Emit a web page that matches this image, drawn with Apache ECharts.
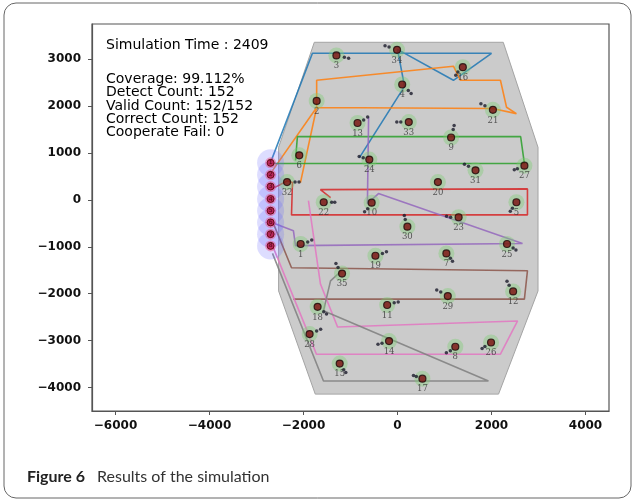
<!DOCTYPE html>
<html>
<head>
<meta charset="utf-8">
<script src="https://cdn.jsdelivr.net/npm/echarts@6/dist/echarts.min.js"></script>
<style>html,body{margin:0;padding:0;background:#fff;}#c{width:635px;height:502px;}</style>
</head>
<body>
<div id="c"></div>
<script>
// ---------- data ----------
const xTicks = [-6000, -4000, -2000, 0, 2000, 4000];
const yTicks = [-4000, -3000, -2000, -1000, 0, 1000, 2000, 3000];

const statsLines = ['Coverage: 99.112%', 'Detect Count: 152', 'Valid Count: 152/152', 'Correct Count: 152', 'Cooperate Fail: 0'];
const simTime = 'Simulation Time : 2409';
const captionBold = 'Figure 6';
const captionText = 'Results of the simulation';

// search region (grey polygon)
const regionX = [-1770, 2250, 2990, 2990, 2150, -1750, -2530, -2530];
const regionY = [3360, 3360, 1120, -1940, -4140, -4140, -1940, 1120];

// start positions (left column)
const startLabels = ['1', '2', '3', '4', '5', '6', '7', '8'];
const startX = [-2700, -2700, -2700, -2700, -2700, -2700, -2700, -2700];
const startY = [790, 535, 285, 20, -230, -480, -730, -980];

// targets / nodes
const nodeLabels = ['3','34','16','4','2','21','13','33','9','6','24','31','27','32','20','22','10','5','23','30','1','19','7','25','35','12','29','11','18','28','14','8','26','15','17'];
const nodeX = [-1300,-10,1390,100,-1720,2030,-850,240,1140,-2090,-600,1660,2700,-2350,860,-1570,-550,2530,1300,210,-2060,-470,1040,2330,-1180,2460,1070,-220,-1700,-1870,-180,1230,1990,-1230,530];
const nodeY = [3080,3200,2830,2460,2110,1920,1640,1660,1330,950,860,630,730,380,380,-50,-60,-50,-370,-570,-940,-1190,-1140,-940,-1570,-1950,-2050,-2240,-2280,-2860,-3010,-3130,-3040,-3490,-3810];

// trailing detection dots
const trailX = [-1130,-1040,-180,-265,1285,1240,230,290,1860,1775,-720,-635,70,-15,1185,1205,-730,-815,1510,1425,2550,2485,-2180,-2095,-1400,-1335,-635,-700,2445,2400,1130,1045,165,145,-1910,-1825,-320,-235,1125,1170,2460,2520,-1265,-1310,2375,2330,920,835,-70,15,-1570,-1510,-1720,-1635,-330,-415,1125,1040,1860,1800,-1145,-1100,400,340];
const trailY = [3040,3020,3260,3285,2725,2660,2330,2270,2005,2050,1705,1770,1660,1660,1500,1585,900,925,715,760,665,645,380,380,-50,-50,-190,-250,-180,-240,-370,-350,-420,-335,-895,-855,-1145,-1105,-1245,-1310,-1025,-1070,-1440,-1355,-1820,-1735,-1965,-1920,-2195,-2175,-2385,-2430,-2795,-2755,-3055,-3075,-3215,-3260,-3125,-3170,-3620,-3680,-3765,-3745];

// flight paths
const pathBlue = [[-2700,800],[-1810,3125],[2000,3125],[1190,2550],[0,3210],[150,2420],[-810,900]];
const pathOrange = [[-2660,625],[-1720,1970],[-1720,2550],[1190,2850],[1340,2550],[2190,2550],[2320,1975],[2530,1840],[2020,1950],[-1720,1970],[-2065,370]];
const pathGreen = [[-2660,775],[2700,775],[2620,1350],[-2130,1350],[-2170,840]];
const pathRed = [[-2660,240],[-2340,410],[-2235,370],[-2255,-320],[2765,-320],[2765,235],[-1640,220],[-1425,50]];
const pathPurple = [[-2660,-485],[-2215,-655],[-2170,-975],[2660,-930],[-405,135],[-640,-80],[-615,1760]];
const pathBrown = [[-2640,-505],[-2255,-1445],[2765,-1510],[2700,-2115],[-2215,-2115]];
const pathPink = [[-2660,-975],[-1895,-2855],[-1725,-3290],[2190,-3290],[2555,-2580],[-1275,-2710],[-1640,-1790],[-1895,-15]];
const pathGray = [[-2660,-1140],[-1575,-3860],[1935,-3860],[-1575,-2365],[-1425,-1725],[-1190,-1510]];

// ---------- chart ----------
const chart = echarts.init(document.getElementById('c'), null, {renderer: 'canvas'});
const fmt = v => (v < 0 ? '\u2212' + Math.abs(v) : String(v));
const paths = [pathBlue, pathOrange, pathGreen, pathRed, pathPurple, pathBrown, pathPink, pathGray];
const pathColors = ['#1f77b4', '#ff7f0e', '#2ca02c', '#d62728', '#9467bd', '#8c564b', '#e377c2', '#7f7f7f'];

const series = [];
series.push({
  type: 'custom', silent: true, z: 1, clip: false,
  data: [[0, 0]],
  renderItem: (params, api) => ({
    type: 'polygon',
    shape: {points: regionX.map((x, i) => api.coord([x, regionY[i]]))},
    style: {fill: '#cbcbcb', stroke: '#a4a4a4', lineWidth: 1}
  })
});
paths.forEach((p, i) => series.push({
  type: 'line', data: p, showSymbol: false, silent: true, z: 2,
  lineStyle: {color: pathColors[i], width: 1.6, opacity: 0.85}
}));
const startData = startX.map((x, i) => [x, startY[i]]);
series.push({type: 'scatter', data: startData, symbolSize: 27, silent: true, z: 3,
  itemStyle: {color: 'rgba(105,105,255,0.28)'}});
series.push({type: 'scatter', data: startData, symbolSize: 11, silent: true, z: 4,
  itemStyle: {color: 'rgba(240,60,120,0.55)'}});
series.push({type: 'scatter', data: startData.map((d, i) => ({value: d, name: startLabels[i]})), symbolSize: 7, silent: true, z: 5,
  itemStyle: {color: '#b01040', borderColor: '#500', borderWidth: 1},
  label: {show: true, position: 'inside', formatter: '{b}', fontSize: 6, color: '#300', fontFamily: 'DejaVu Sans'}});

const nodeData = nodeX.map((x, i) => ({value: [x, nodeY[i]], name: nodeLabels[i]}));
series.push({type: 'scatter', data: nodeData, symbolSize: 16, silent: true, z: 6,
  itemStyle: {color: 'rgba(125,205,115,0.5)'},
  label: {show: true, position: 'bottom', distance: -2, formatter: '{b}', fontSize: 8.5, color: '#333', fontFamily: 'DejaVu Serif'}});
series.push({type: 'scatter', data: trailX.map((x, i) => [x, trailY[i]]), symbolSize: 3.5, silent: true, z: 6,
  itemStyle: {color: '#1a1a2a'}});
series.push({type: 'scatter', data: nodeData.map(d => d.value), symbolSize: 7, silent: true, z: 7,
  itemStyle: {color: '#7a0d0d', borderColor: '#1a0808', borderWidth: 1.2}});

const graphics = [
  {type: 'rect', shape: {x: 4, y: 3, width: 627, height: 495, r: 12}, style: {fill: 'none', stroke: '#666', lineWidth: 1}, z: 0},
  {type: 'text', style: {x: 106, y: 45, text: simTime, font: '14px "DejaVu Sans"', fill: '#000', verticalAlign: 'middle'}, z: 10},
  {type: 'text', style: {x: 27, y: 477, text: captionBold, font: 'bold 16px Lato', fill: '#222', verticalAlign: 'middle'}, z: 10},
  {type: 'text', style: {x: 97, y: 477, text: captionText, font: '16px Lato', fill: '#333', verticalAlign: 'middle'}, z: 10}
];
statsLines.forEach((t, i) => graphics.push({type: 'text', style: {x: 106, y: 79.3 + i * 13.35, text: t, font: '14px "DejaVu Sans"', fill: '#000', verticalAlign: 'middle'}, z: 10}));

chart.setOption({
  animation: false,
  backgroundColor: '#fff',
  grid: {left: 92, right: 26, top: 24, bottom: 91, show: true, borderColor: '#555', borderWidth: 1.2, outerBoundsMode: 'none'},
  xAxis: {
    type: 'value', min: -6500, max: 4500,
    axisLine: {show: true, onZero: false, lineStyle: {color: '#555', width: 1.2}},
    axisTick: {show: true, customValues: xTicks, length: 4, lineStyle: {color: '#555'}},
    axisLabel: {customValues: xTicks, formatter: fmt, margin: 9, fontSize: 12, fontWeight: 'bold', color: '#111', fontFamily: 'DejaVu Sans'},
    splitLine: {show: false}
  },
  yAxis: {
    type: 'value', min: -4500, max: 3750,
    axisLine: {show: true, onZero: false, lineStyle: {color: '#555', width: 1.2}},
    axisTick: {show: true, customValues: yTicks, length: 4, lineStyle: {color: '#555'}},
    axisLabel: {customValues: yTicks, formatter: fmt, margin: 11, fontSize: 12, fontWeight: 'bold', color: '#111', fontFamily: 'DejaVu Sans'},
    splitLine: {show: false}
  },
  graphic: graphics,
  series: series
});
</script>
</body>
</html>
